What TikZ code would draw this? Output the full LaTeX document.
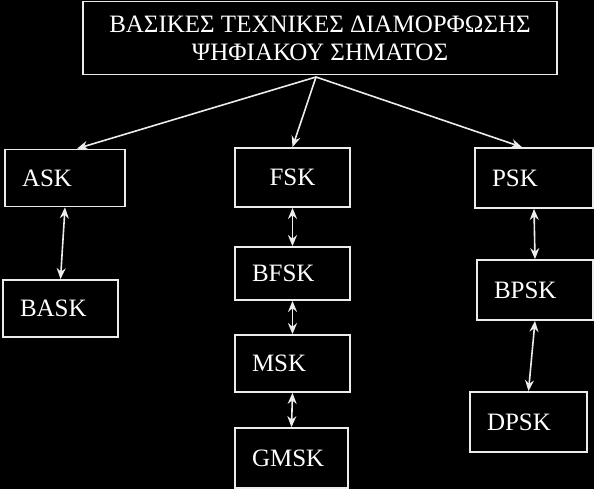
\documentclass[tikz,border=0pt]{standalone}
\usepackage{fontspec}
\setmainfont{Liberation Serif}
\usetikzlibrary{arrows.meta}
\tikzset{
  box/.style={draw=gray!15, line width=1.8pt, text=white,
    font=\fontsize{25}{28}\selectfont, align=left,
    inner xsep=17pt, inner ysep=0pt},
  title/.style={box, align=center, minimum width=474pt,
    minimum height=73pt, font=\fontsize{25}{28}\selectfont},
  link/.style={draw=gray!15, line width=1.6pt,
    arrows={-Stealth[length=11pt,width=9pt]}},
}
\begin{document}
\begin{tikzpicture}[x=1pt,y=-1pt]
  \fill[black] (0,0) rectangle (594,489);
  \useasboundingbox (0,0) rectangle (594,489);
  \draw
    (320,38) node[title] (title){ΒΑΣΙΚΕΣ ΤΕΧΝΙΚΕΣ ΔΙΑΜΟΡΦΩΣΗΣ\\ΨΗΦΙΑΚΟΥ ΣΗΜΑΤΟΣ}
    (65,178) node[box, text width=86pt, minimum height=57pt] (ask){ASK}
    (60.5,308.5) node[box, text width=81pt, minimum height=57pt] (bask){BASK}
    (292.5,177.5) node[box, align=center, text width=81pt, minimum height=59pt] (fsk){FSK}
    (292.5,273.5) node[box, text width=81pt, minimum height=53pt] (bfsk){BFSK}
    (292.5,363.5) node[box, text width=81pt, minimum height=57pt] (msk){MSK}
    (291.5,458) node[box, text width=79pt, minimum height=60pt] (gmsk){GMSK}
    (534,178) node[box, text width=84pt, minimum height=60pt] (psk){PSK}
    (535,290) node[box, text width=82pt, minimum height=60pt] (bpsk){BPSK}
    (528.5,422) node[box, text width=83pt, minimum height=60pt] (dpsk){DPSK};
  \coordinate (hub) at (316,77);
  \begin{scope}[link]
    % from the title down to the three families
    \draw (hub) to ([xshift=12pt]ask.north);
    \draw (hub) to (fsk.north);
    \draw (hub) to ([xshift=-12pt]psk.north);
  \end{scope}
  \begin{scope}[link, arrows={Stealth[length=11pt,width=9pt]-Stealth[length=11pt,width=9pt]}]
    \draw (ask.south) to (bask.north);
    \draw (fsk.south) to (bfsk.north);
    \draw (bfsk.south) to (msk.north);
    \draw (msk.south) to (gmsk.north);
    \draw (psk.south) to (bpsk.north);
    \draw (bpsk.south) to (dpsk.north);
  \end{scope}
\end{tikzpicture}
\end{document}
